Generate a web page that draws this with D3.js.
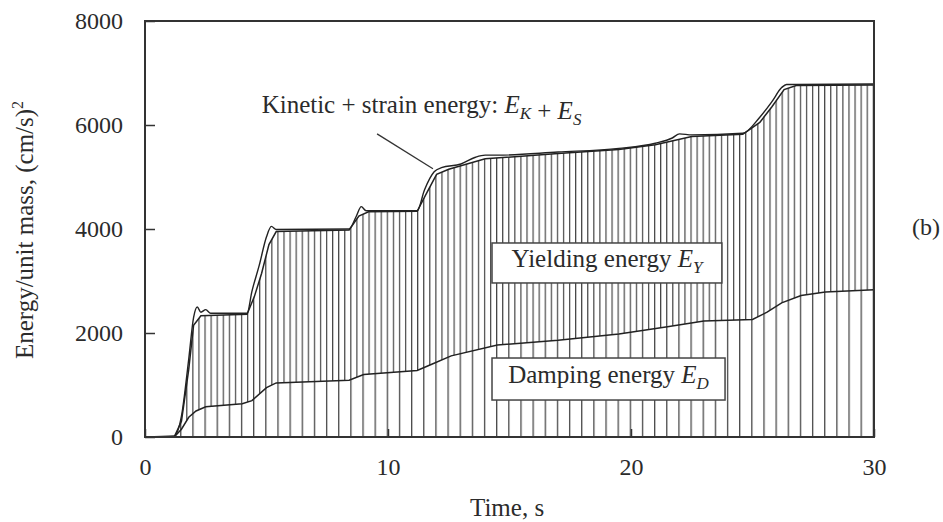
<!DOCTYPE html>
<html>
<head>
<meta charset="utf-8">
<script src="https://cdn.jsdelivr.net/npm/d3@7"></script>
<style>
  body { margin: 0; background: #fff; }
  svg text { font-family: "Liberation Serif", "Times New Roman", Tinos, "DejaVu Serif", serif; fill: #2b2b2b; }
</style>
</head>
<body>
<div class="chart"></div>
<script>
var svgWidth = 943;
var svgHeight = 522;

var margin = { top: 21, right: 69, bottom: 85, left: 145 };
var width = svgWidth - margin.left - margin.right;
var height = svgHeight - margin.top - margin.bottom;

// Damping energy E_D
var dampTime = [0, 1.2, 1.5, 1.8, 2.1, 2.5, 4.0, 4.4, 5.0, 5.4, 8.4, 9.0, 11.2, 11.8, 12.6, 14.5, 17.0, 19.5, 21.5, 23.0, 25.0, 25.6, 26.2, 27.0, 28.0, 30];
var dampEnergy = [0, 0, 150, 380, 500, 580, 640, 700, 950, 1040, 1090, 1200, 1280, 1400, 1560, 1770, 1860, 1980, 2120, 2230, 2260, 2400, 2580, 2720, 2790, 2830];

// Damping + yielding energy E_D + E_Y
var yieldTime = [0, 1.2, 1.5, 1.8, 2.0, 2.3, 4.2, 4.5, 4.8, 5.1, 5.4, 8.4, 8.8, 9.2, 11.2, 11.6, 12.0, 12.5, 14.0, 17.0, 19.5, 21.0, 22.5, 24.6, 25.3, 25.8, 26.3, 26.8, 30];
var yieldEnergy = [0, 0, 300, 1300, 2150, 2330, 2360, 2700, 3150, 3700, 3950, 3980, 4250, 4330, 4340, 4700, 5050, 5150, 5350, 5450, 5530, 5620, 5780, 5820, 6050, 6350, 6680, 6760, 6770];

// Total input: E_D + E_Y + E_K + E_S
var totalTime = [0, 1.2, 1.5, 1.8, 2.0, 2.15, 2.3, 2.5, 2.7, 3.0, 4.2, 4.4, 4.7, 5.0, 5.2, 5.4, 8.4, 8.7, 8.9, 9.1, 11.2, 11.5, 11.9, 12.2, 13.0, 13.6, 14.0, 14.5, 17.0, 19.5, 21.0, 21.7, 22.0, 22.5, 24.6, 25.3, 25.8, 26.2, 26.4, 26.8, 30];
var totalEnergy = [0, 20, 400, 1500, 2300, 2500, 2400, 2450, 2380, 2380, 2380, 2800, 3300, 3850, 4050, 3990, 4000, 4250, 4430, 4350, 4350, 4750, 5100, 5180, 5250, 5380, 5420, 5420, 5480, 5550, 5650, 5750, 5830, 5810, 5840, 6150, 6450, 6720, 6780, 6780, 6790];

var xTicks = [0, 10, 20, 30];
var yTicks = [0, 2000, 4000, 6000, 8000];

var svg = d3.select(".chart")
  .append("svg")
  .attr("width", svgWidth)
  .attr("height", svgHeight)
  .attr("font-family", "Liberation Serif, Times New Roman, serif");

var chartGroup = svg.append("g")
  .attr("transform", `translate(${margin.left}, ${margin.top})`);

var x = d3.scaleLinear().domain([0, 30]).range([0, width]);
var y = d3.scaleLinear().domain([0, 8000]).range([height, 0]);

var damp = dampTime.map((t, i) => ({ t: t, v: dampEnergy[i] }));
var yld = yieldTime.map((t, i) => ({ t: t, v: yieldEnergy[i] }));
var total = totalTime.map((t, i) => ({ t: t, v: totalEnergy[i] }));

// hatch patterns: fine for yielding, coarse for damping
var defs = svg.append("defs");
function hatch(id, step, color, w) {
  var p = defs.append("pattern")
    .attr("id", id)
    .attr("patternUnits", "userSpaceOnUse")
    .attr("x", margin.left + x(0.5) - 0.5)
    .attr("y", 0)
    .attr("width", x(step) - x(0))
    .attr("height", 10);
  p.append("line")
    .attr("x1", 0.5).attr("x2", 0.5)
    .attr("y1", 0).attr("y2", 10)
    .attr("stroke", color)
    .attr("stroke-width", w);
}
hatch("hatchY", 0.25, "#444", 1.4);
hatch("hatchD", 0.5, "#4a4a4a", 1.6);

var upper = d3.area()
  .x(d => x(d.t))
  .y0(y(0))
  .y1(d => y(d.v));
chartGroup.append("clipPath").attr("id", "aboveDamp")
  .append("path")
  .datum(damp)
  .attr("d", d3.area().x(d => x(d.t)).y0(0).y1(d => y(d.v)));

// yielding region: between E_D and E_D + E_Y
chartGroup.append("path")
  .datum(yld)
  .attr("d", upper)
  .attr("fill", "url(#hatchY)")
  .attr("clip-path", "url(#aboveDamp)");

// damping region
chartGroup.append("path")
  .datum(damp)
  .attr("d", upper)
  .attr("fill", "url(#hatchD)");

var line = d3.line().x(d => x(d.t)).y(d => y(d.v));

chartGroup.append("path")
  .datum(damp)
  .attr("d", line)
  .attr("fill", "none")
  .attr("stroke", "#222")
  .attr("stroke-width", 1.5);

chartGroup.append("path")
  .datum(yld)
  .attr("d", line)
  .attr("fill", "none")
  .attr("stroke", "#222")
  .attr("stroke-width", 1.5);

chartGroup.append("path")
  .datum(total)
  .attr("d", line.curve(d3.curveMonotoneX))
  .attr("fill", "none")
  .attr("stroke", "#222")
  .attr("stroke-width", 1.4);

// frame
chartGroup.append("rect")
  .attr("width", width)
  .attr("height", height)
  .attr("fill", "none")
  .attr("stroke", "#333")
  .attr("stroke-width", 2);

// axes
var leftAxis = d3.axisLeft(y).tickValues(yTicks).tickSize(-10).tickPadding(22).tickFormat(d3.format("d"));
var bottomAxis = d3.axisBottom(x).tickValues(xTicks).tickSize(-8).tickPadding(21).tickFormat(d3.format("d"));

chartGroup.append("g").call(leftAxis)
  .attr("font-family", null)
  .call(g => g.select(".domain").remove())
  .call(g => g.selectAll("line").attr("stroke", "#333").attr("stroke-width", 1.5))
  .call(g => g.selectAll("text").attr("font-size", 24));

chartGroup.append("g")
  .attr("transform", `translate(0, ${height})`)
  .call(bottomAxis)
  .attr("font-family", null)
  .call(g => g.select(".domain").remove())
  .call(g => g.selectAll("line").attr("stroke", "#333").attr("stroke-width", 1.5))
  .call(g => g.selectAll("text").attr("font-size", 24));

// axis titles
chartGroup.append("text")
  .attr("transform", "rotate(-90)")
  .attr("x", 0 - (y(4000) + 1))
  .attr("y", 33 - margin.left)
  .attr("text-anchor", "middle")
  .attr("font-size", 25)
  .text("Energy/unit mass, (cm/s)")
  .append("tspan")
  .attr("dy", -10)
  .attr("font-size", 16)
  .text("2");

chartGroup.append("text")
  .attr("x", x(14.9))
  .attr("y", height + 79)
  .attr("text-anchor", "middle")
  .attr("font-size", 25)
  .text("Time, s");

// annotation helper for E with subscript
function energy(sel, sub) {
  sel.append("tspan").attr("font-style", "italic").text("E");
  sel.append("tspan").attr("font-style", "italic").attr("font-size", 17)
    .attr("dy", 6).text(sub);
  sel.append("tspan").attr("dy", -6).text("");
}

var kin = chartGroup.append("text")
  .attr("x", x(4.8))
  .attr("y", y(6231))
  .attr("font-size", 25);
kin.append("tspan").text("Kinetic + strain energy: ");
energy(kin, "K");
kin.append("tspan").text(" + ");
energy(kin, "S");

chartGroup.append("line")
  .attr("x1", x(9.55)).attr("y1", y(5830))
  .attr("x2", x(11.85)).attr("y2", y(5160))
  .attr("stroke", "#333")
  .attr("stroke-width", 1.3);

function labelBox(t0, t1, v0, v1, txt, sub) {
  chartGroup.append("rect")
    .attr("x", x(t0)).attr("y", y(v1))
    .attr("width", x(t1) - x(t0))
    .attr("height", y(v0) - y(v1))
    .attr("fill", "#fff")
    .attr("stroke", "#444")
    .attr("stroke-width", 1.5);
  var tx = chartGroup.append("text")
    .attr("x", (x(t0) + x(t1)) / 2)
    .attr("y", y((v0 + v1) / 2) + 4)
    .attr("text-anchor", "middle")
    .attr("font-size", 25);
  tx.append("tspan").text(txt + " ");
  energy(tx, sub);
}
labelBox(14.28, 23.74, 2962, 3731, "Yielding energy", "Y");
labelBox(14.28, 23.87, 711, 1519, "Damping energy", "D");

svg.append("text")
  .attr("x", 926)
  .attr("y", 235)
  .attr("text-anchor", "middle")
  .attr("font-size", 24)
  .text("(b)");
</script>
</body>
</html>
